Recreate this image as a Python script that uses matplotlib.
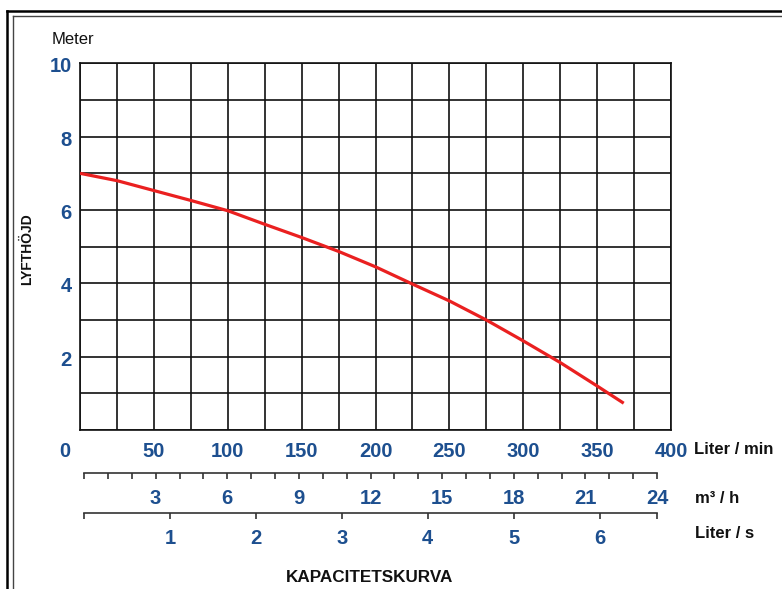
import matplotlib
matplotlib.use("Agg")
import matplotlib.pyplot as plt
from matplotlib.lines import Line2D
from matplotlib.transforms import ScaledTranslation

# pump curve data (flow in l/min, head in m)
flow = [0, 25, 50, 75, 100, 125, 150, 175, 200, 225, 250, 275, 300, 325, 350, 368]
head = [7.0, 6.8, 6.53, 6.26, 5.98, 5.61, 5.25, 4.87, 4.45, 3.98, 3.52, 3.0, 2.43, 1.84, 1.2, 0.73]

lmin_ticks = [0, 50, 100, 150, 200, 250, 300, 350, 400]
head_ticks = [2, 4, 6, 8, 10]
m3h_ticks = list(range(0, 25))
m3h_labels = [str(v) if v % 3 == 0 and v > 0 else "" for v in m3h_ticks]
ls_ticks = [0, 1, 2, 3, 4, 5, 6, 400 / 60]
ls_labels = ["", "1", "2", "3", "4", "5", "6", ""]

blue = "#1d4f8f"
W, H = 782, 589

plt.rcParams["font.family"] = ["Liberation Sans", "DejaVu Sans"]

fig = plt.figure(figsize=(W / 100, H / 100), dpi=100)

def fx(px):
    return px / W

def fy(py):
    return 1 - py / H

# main grid axes
ax = fig.add_axes([fx(80), fy(430), (671 - 80) / W, (430 - 63.3) / H])
ax.plot(flow, head, color="#ea2020", lw=2.3, solid_capstyle="butt", solid_joinstyle="round", zorder=3)
ax.set_xlim(0, 400)
ax.set_ylim(0, 10)
ax.set_xticks(range(0, 401, 25), minor=True)
ax.set_yticks(range(0, 11), minor=True)
ax.grid(True, which="both", color="#111111", lw=1.2)
ax.set_xticks(lmin_ticks)
ax.set_xticklabels([str(v) for v in lmin_ticks])
ax.set_yticks(head_ticks)
ax.set_yticklabels([str(v) for v in head_ticks])
ax.tick_params(which="both", length=0)
ax.tick_params(axis="x", pad=8.6, labelsize=14.5, labelcolor=blue)
ax.tick_params(axis="y", pad=6.0, labelsize=14.5, labelcolor=blue)
for lbl in ax.get_xticklabels() + ax.get_yticklabels():
    lbl.set_fontweight("bold")
for lbl in ax.get_yticklabels():
    lbl.set_transform(lbl.get_transform() + ScaledTranslation(0, -0.015, fig.dpi_scale_trans))
for sp in ax.spines.values():
    sp.set_color("#111111")
    sp.set_linewidth(1.2)
# the 0 label sits left of the corner
lbl0 = ax.get_xticklabels()[0]
lbl0.set_transform(lbl0.get_transform() + ScaledTranslation(-0.15, 0, fig.dpi_scale_trans))

# m3/h scale
ax2 = fig.add_axes([fx(84), fy(472.5), (657 - 84) / W, 0.0001])
ax2.set_xlim(0, 24)
ax2.set_xticks(m3h_ticks)
ax2.set_xticklabels(m3h_labels)

# liter/s scale
ax3 = fig.add_axes([fx(84), fy(512.5), (657 - 84) / W, 0.0001])
ax3.set_xlim(0, 400 / 60)
ax3.set_xticks(ls_ticks)
ax3.set_xticklabels(ls_labels)

for a, p in [(ax2, 7.4), (ax3, 7.4)]:
    a.set_yticks([])
    a.patch.set_visible(False)
    for s in ["top", "left", "right"]:
        a.spines[s].set_visible(False)
    a.spines["bottom"].set_color("#333333")
    a.spines["bottom"].set_linewidth(1.2)
    a.tick_params(axis="x", direction="out", length=4.3, width=1.2, color="#333333",
                  pad=p, labelsize=14.5, labelcolor=blue)
    for lbl in a.get_xticklabels():
        lbl.set_fontweight("bold")

# unit texts
fig.text(fx(51.5), fy(43.5), "Meter", fontsize=12, color="#111111", va="baseline")
fig.text(fx(694), fy(454), "Liter / min", fontsize=12, fontweight="bold", color="#111111", va="baseline")
fig.text(fx(695), fy(503), "m³ / h", fontsize=12, fontweight="bold", color="#111111", va="baseline")
fig.text(fx(695), fy(538), "Liter / s", fontsize=12, fontweight="bold", color="#111111", va="baseline")
fig.text(fx(27), fy(249), "LYFTHÖJD", fontsize=10, fontweight="bold", color="#111111",
         rotation=90, ha="center", va="center")
fig.text(fx(370), fy(582), "KAPACITETSKURVA", fontsize=12.3, fontweight="bold", color="#111111",
         ha="center", va="baseline")

# double frame (cropped at right and bottom)
fig.add_artist(Line2D([fx(7), fx(7)], [0, fy(11)], color="black", lw=1.8))
fig.add_artist(Line2D([fx(7), 1], [fy(11), fy(11)], color="black", lw=1.8))
fig.add_artist(Line2D([fx(12.5), fx(12.5)], [0, fy(16)], color="#444444", lw=1.0))
fig.add_artist(Line2D([fx(12.5), 1], [fy(16), fy(16)], color="#444444", lw=1.0))

fig.savefig("out.png", dpi=100)
